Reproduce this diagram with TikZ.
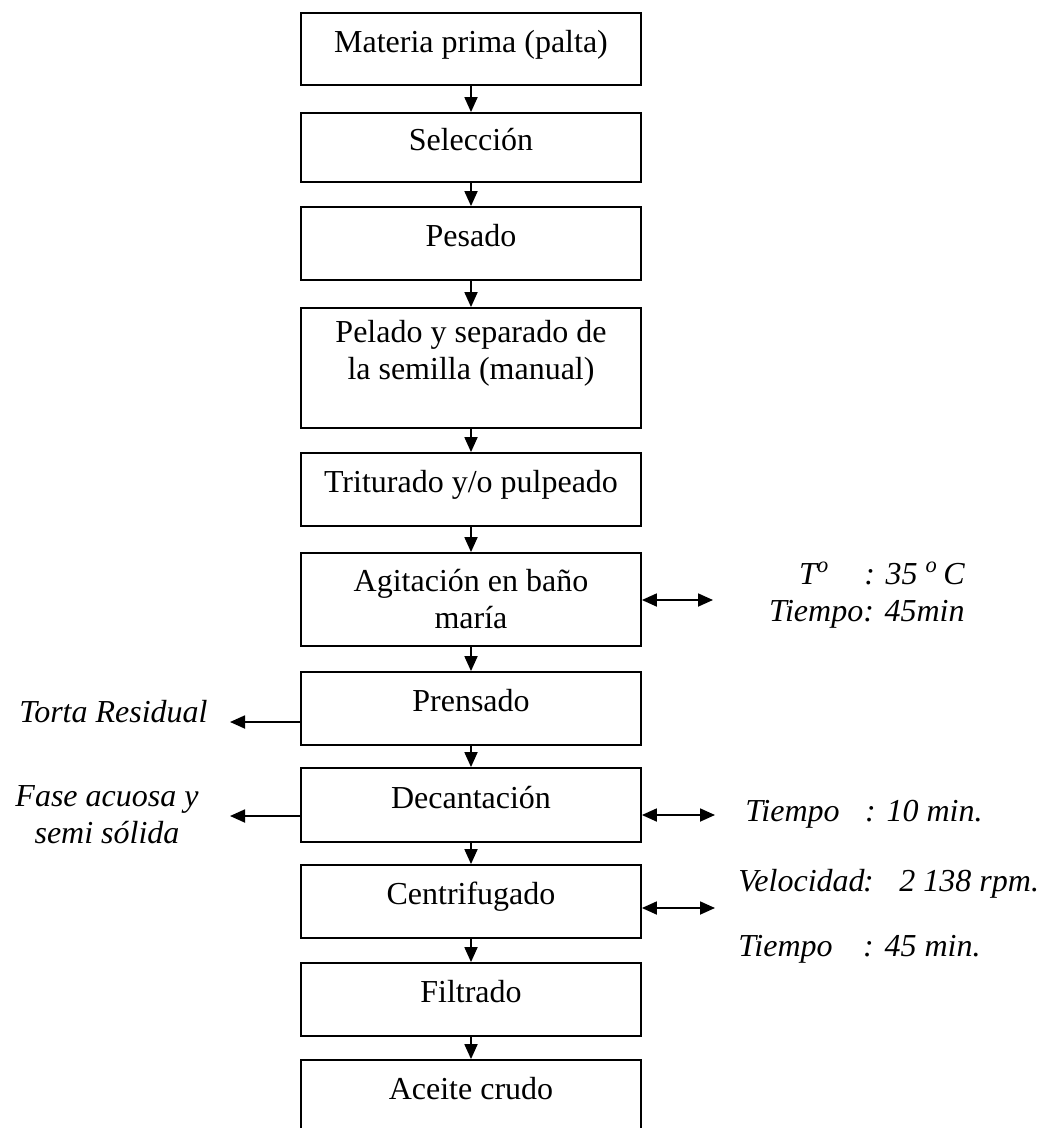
\documentclass[tikz,border=0pt]{standalone}
\usepackage{fontspec}
\setmainfont{Liberation Serif}
\usetikzlibrary{arrows.meta}

\begin{document}
\begin{tikzpicture}
  [x=0.5pt, y=-0.5pt,
   every node/.style={font=\fontsize{16}{18.5}\selectfont},
   caja/.style={draw, line width=0.9pt, minimum width=170pt, inner sep=0pt, align=center},
   caja1/.style={caja, minimum height=36.5pt, text height=0.62em, text depth=0.3em},
   flecha/.style={line width=0.9pt, -{Triangle[length=7.5pt,width=6.5pt]}},
   doble/.style={line width=0.9pt, {Triangle[length=7.5pt,width=6.5pt]}-{Triangle[length=7.5pt,width=6.5pt]}},
   nota/.style={font=\fontsize{16}{18.5}\selectfont\itshape, inner sep=0pt}]
  \useasboundingbox (0,0) rectangle (1052,1128);

  \node[caja1, minimum height=36pt] (materia) at (471,49) {Materia prima (palta)};
  \node[caja1, minimum height=34.5pt] (seleccion) at (471,147.5) {Selección};
  \node[caja1] (pesado) at (471,243.5) {Pesado};
  \node[caja, minimum height=60pt] (pelado) at (471,368) {Pelado y separado de\\la semilla (manual)\\~};
  \node[caja1] (triturado) at (471,489.5) {Triturado y/o pulpeado};
  \node[caja, minimum height=46.5pt] (agitacion) at (471,599.5) {Agitación en baño\\maría};
  \node[caja1] (prensado) at (471,708.5) {Prensado};
  \node[caja1, minimum height=37pt] (decantacion) at (471,805) {Decantación};
  \node[caja1] (centrifugado) at (471,901.5) {Centrifugado};
  \node[caja1] (filtrado) at (471,999.5) {Filtrado};
  \node[caja1] (aceite) at (471,1096.5) {Aceite crudo};

  \draw[flecha] (materia) -- (seleccion);
  \draw[flecha] (seleccion) -- (pesado);
  \draw[flecha] (pesado) -- (pelado);
  \draw[flecha] (pelado) -- (triturado);
  \draw[flecha] (triturado) -- (agitacion);
  \draw[flecha] (agitacion) -- (prensado);
  \draw[flecha] (prensado) -- (decantacion);
  \draw[flecha] (decantacion) -- (centrifugado);
  \draw[flecha] (centrifugado) -- (filtrado);
  \draw[flecha] (filtrado) -- (aceite);

  \node[nota, anchor=east] (torta) at (208,712) {Torta Residual};
  \node[nota, align=center] (fase) at (107,815) {Fase acuosa y\\semi sólida};
  \coordinate (tortafin) at (230,722);
  \coordinate (fasefin) at (230,816);
  \draw[flecha] (prensado.west |- tortafin) -- (tortafin);
  \draw[flecha] (decantacion.west |- fasefin) -- (fasefin);

  \node[nota, anchor=east, align=right] (temp) at (965,595)
    {T\textsuperscript{o}\hspace{1.1em}: 35 \textsuperscript{o}\,C\\Tiempo: 45min};
  \node[nota, anchor=west] (tiempo) at (745,814) {Tiempo\hspace{0.8em}: 10 min.};
  \node[nota, anchor=west, align=left] (velocidad) at (738,916)
    {\makebox[3.9em][l]{Velocidad}:\hspace{0.8em}2 138 rpm.\\[14pt]\makebox[3.9em][l]{Tiempo}: 45 min.};
  \coordinate (agitfin) at (713,600);
  \coordinate (decfin) at (715,815);
  \coordinate (centfin) at (715,908);
  \draw[doble] (agitacion.east |- agitfin) -- (agitfin);
  \draw[doble] (decantacion.east |- decfin) -- (decfin);
  \draw[doble] (centrifugado.east |- centfin) -- (centfin);
\end{tikzpicture}
\end{document}
